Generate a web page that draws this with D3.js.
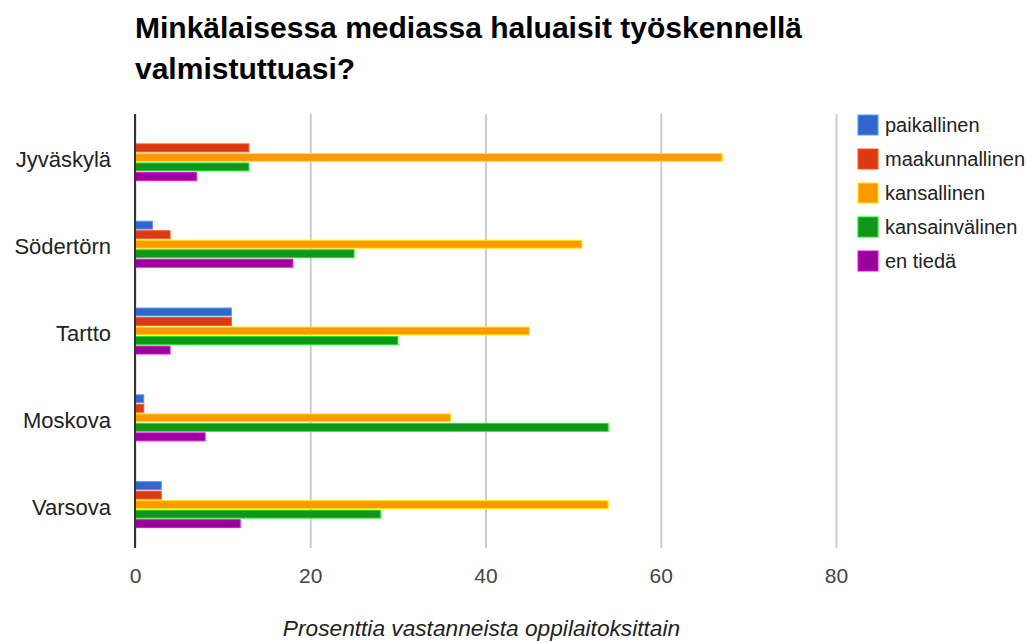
<!DOCTYPE html>
<html>
<head>
<meta charset="utf-8">
<script src="https://cdn.jsdelivr.net/npm/d3@7"></script>
<style>
  body { margin: 0; background: #fff; }
  svg { display: block; font-family: "Liberation Sans", Arial, sans-serif; }
  .grid line { stroke: #ccc; stroke-width: 2; }
  .grid .domain { display: none; }
  .xaxis .domain, .yaxis .domain { display: none; }
  .xaxis text { font-size: 21px; fill: #444; }
  .yaxis text { font-size: 22px; fill: #222; }
  .legend text { font-size: 20px; fill: #222; }
</style>
</head>
<body>
<svg id="chart"></svg>
<script>
var titleLines = ['Minkälaisessa mediassa haluaisit työskennellä', 'valmistuttuasi?'];
var axisTitle = 'Prosenttia vastanneista oppilaitoksittain';
var schools = ['Jyväskylä', 'Södertörn', 'Tartto', 'Moskova', 'Varsova'];
var seriesNames = ['paikallinen', 'maakunnallinen', 'kansallinen', 'kansainvälinen', 'en tiedä'];
var colors = ['#3366cc', '#dc3912', '#ff9900', '#109618', '#990099'];
var xTicks = [0, 20, 40, 60, 80];

// one array per series, values in schools order
var paikallinen = [0, 2, 11, 1, 3];
var maakunnallinen = [13, 4, 11, 1, 3];
var kansallinen = [67, 51, 45, 36, 54];
var kansainvalinen = [13, 25, 30, 54, 28];
var enTieda = [7, 18, 4, 8, 12];
var seriesValues = [paikallinen, maakunnallinen, kansallinen, kansainvalinen, enTieda];

var svgWidth = 1027, svgHeight = 643;
var margin = {top: 114, right: 191, bottom: 95, left: 135};
var width = svgWidth - margin.left - margin.right;
var height = svgHeight - margin.top - margin.bottom;

var svg = d3.select('#chart')
    .attr('width', svgWidth)
    .attr('height', svgHeight);

// title
svg.append('g')
    .selectAll('text')
    .data(titleLines)
    .join('text')
    .attr('x', margin.left)
    .attr('y', (d, i) => 38 + i * 41)
    .attr('font-size', 30)
    .attr('font-weight', 'bold')
    .attr('fill', '#000')
    .text((d) => d);

var g = svg.append('g')
    .attr('transform', 'translate(' + margin.left + ',' + margin.top + ')');

var x = d3.scaleLinear().domain([0, 80]).range([0, width]);
var y0 = d3.scaleBand().domain(schools).range([0, height]).paddingInner(0.47).paddingOuter(0.235);
var y1 = d3.scaleBand().domain(seriesNames).range([0, y0.bandwidth()]).paddingInner(0.17).paddingOuter(0);

// gridlines
g.append('g')
    .attr('class', 'grid')
    .call(d3.axisBottom(x).tickValues(xTicks).tickSize(height).tickFormat(''));

// bars
var rows = schools.map((s, i) => ({
    school: s,
    values: seriesNames.map((n, j) => ({name: n, value: seriesValues[j][i], color: colors[j]}))
}));

g.append('g')
    .selectAll('g')
    .data(rows)
    .join('g')
    .attr('transform', (d) => 'translate(0,' + y0(d.school) + ')')
    .selectAll('rect')
    .data((d) => d.values.filter((v) => v.value > 0))
    .join('rect')
    .attr('x', x(0))
    .attr('y', (d) => y1(d.name))
    .attr('width', (d) => x(d.value) - x(0))
    .attr('height', y1.bandwidth())
    .attr('fill', (d) => d.color)
    .attr('stroke', (d) => d3.color(d.color).brighter(1.2))
    .attr('stroke-width', 1);

// baseline
g.append('line')
    .attr('x1', x(0)).attr('x2', x(0))
    .attr('y1', 0).attr('y2', height)
    .attr('stroke', '#333')
    .attr('stroke-width', 2);

// x axis labels
var xAxis = g.append('g')
    .attr('class', 'xaxis')
    .attr('transform', 'translate(0,' + height + ')')
    .call(d3.axisBottom(x).tickValues(xTicks).tickSize(0));
xAxis.selectAll('text').attr('y', 35).attr('dy', 0);

// y axis labels
var yAxis = g.append('g')
    .attr('class', 'yaxis')
    .call(d3.axisLeft(y0).tickSize(0).tickPadding(24));
yAxis.selectAll('text').attr('dy', '0.45em');

// axis title
svg.append('text')
    .attr('x', margin.left + width / 2 - 4)
    .attr('y', 636)
    .attr('text-anchor', 'middle')
    .attr('font-size', 22.7)
    .attr('font-style', 'italic')
    .attr('fill', '#222')
    .text(axisTitle);

// legend
var legend = svg.append('g')
    .attr('class', 'legend')
    .attr('transform', 'translate(858,115)')
    .selectAll('g')
    .data(seriesNames)
    .join('g')
    .attr('transform', (d, i) => 'translate(0,' + i * 34 + ')');

legend.append('rect')
    .attr('width', 20)
    .attr('height', 20)
    .attr('fill', (d, i) => colors[i])
    .attr('stroke', (d, i) => d3.color(colors[i]).brighter(1.2))
    .attr('stroke-width', 1);

legend.append('text')
    .attr('x', 27)
    .attr('y', 17)
    .text((d) => d);
</script>
</body>
</html>
